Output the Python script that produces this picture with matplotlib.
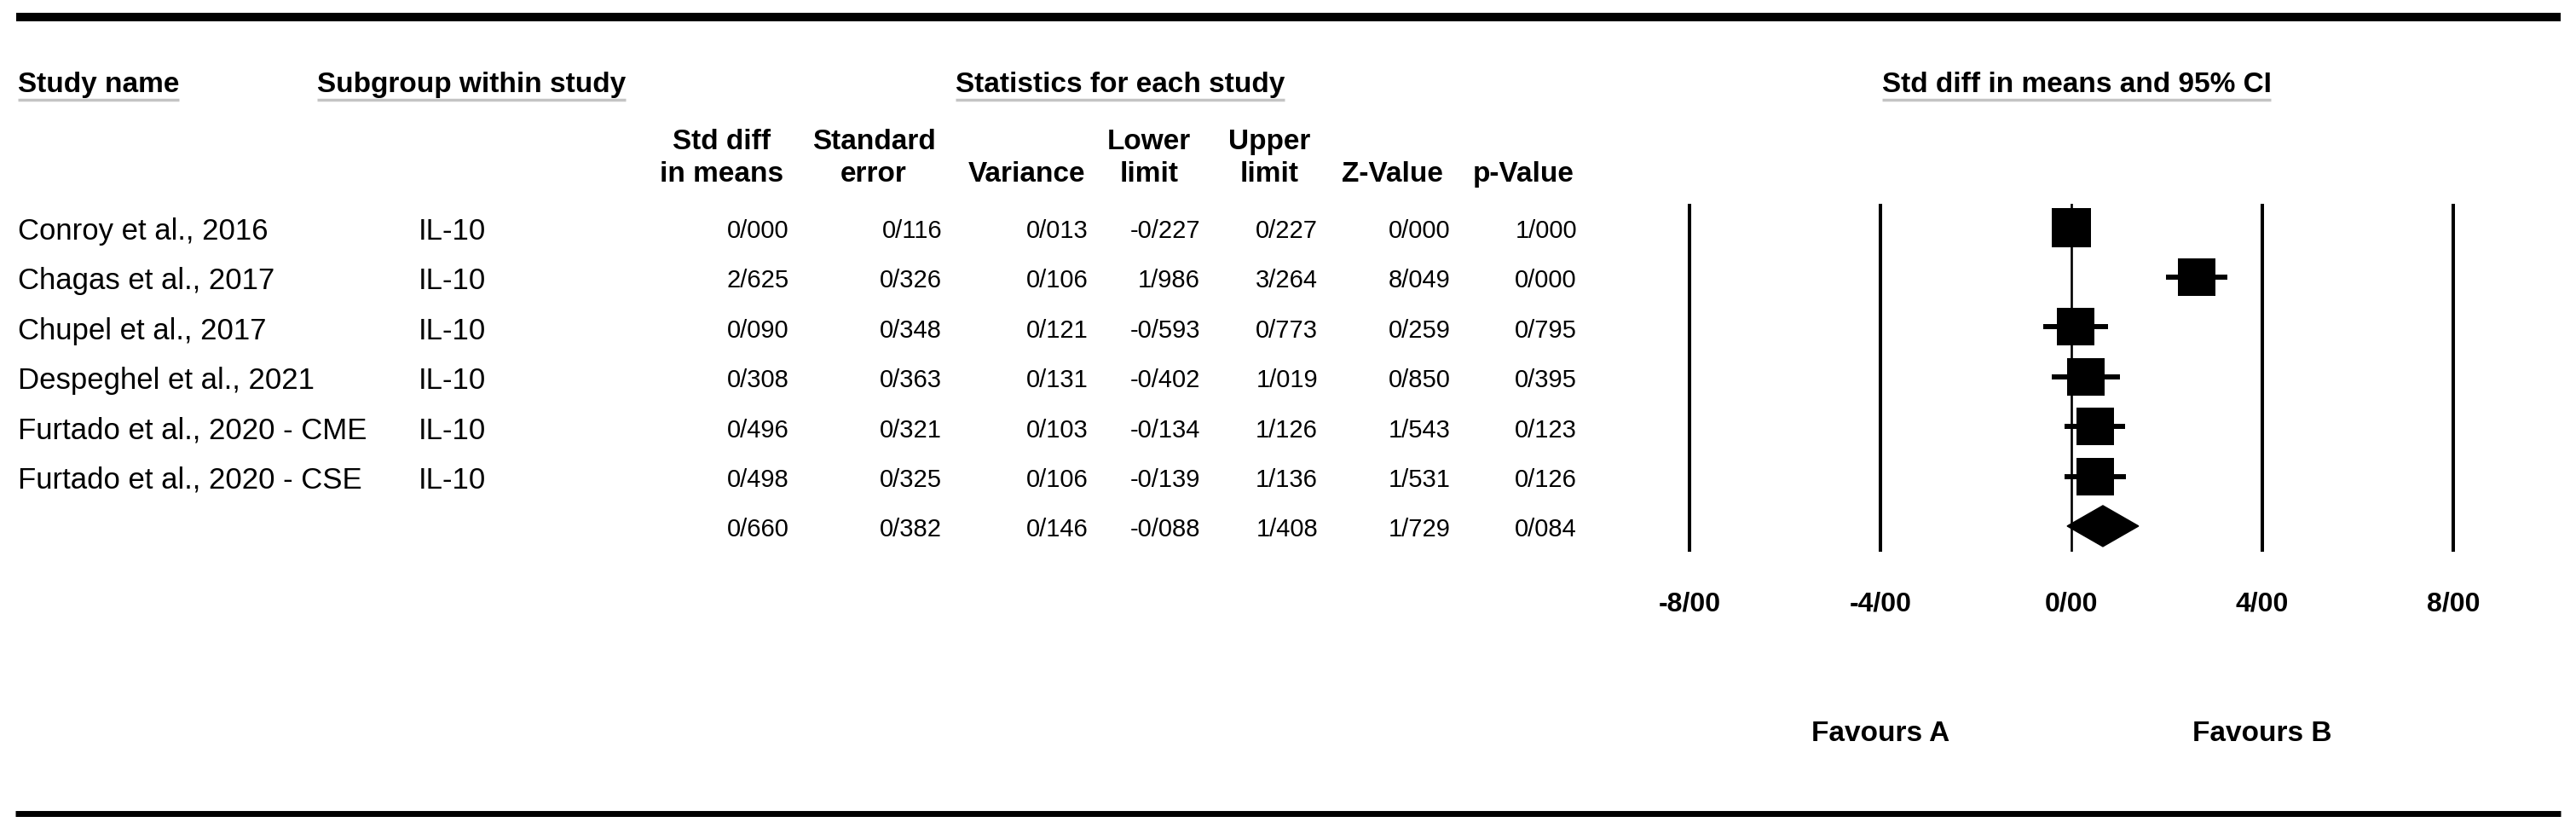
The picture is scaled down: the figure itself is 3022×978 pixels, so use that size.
import matplotlib
matplotlib.use("Agg")
import matplotlib.pyplot as plt
import numpy as np
from matplotlib import font_manager
from matplotlib.patches import Polygon
from matplotlib.transforms import blended_transform_factory

# study rows
studies = ["Conroy et al., 2016", "Chagas et al., 2017", "Chupel et al., 2017",
           "Despeghel et al., 2021", "Furtado et al., 2020 - CME", "Furtado et al., 2020 - CSE"]
subgroups = ["IL-10", "IL-10", "IL-10", "IL-10", "IL-10", "IL-10"]
std_diff = [0.000, 2.625, 0.090, 0.308, 0.496, 0.498]
std_err = [0.116, 0.326, 0.348, 0.363, 0.321, 0.325]
variance = [0.013, 0.106, 0.121, 0.131, 0.103, 0.106]
lower = [-0.227, 1.986, -0.593, -0.402, -0.134, -0.139]
upper = [0.227, 3.264, 0.773, 1.019, 1.126, 1.136]
z_value = [0.000, 8.049, 0.259, 0.850, 1.543, 1.531]
p_value = [1.000, 0.000, 0.795, 0.395, 0.123, 0.126]

# pooled (random effects) row
summary = [0.660, 0.382, 0.146, -0.088, 1.408, 1.729, 0.084]

col_heads = [("Std diff", "in means"), ("Standard", "error"), ("", "Variance"),
             ("Lower", "limit"), ("Upper", "limit"), ("", "Z-Value"), ("", "p-Value")]
ticks = [-8, -4, 0, 4, 8]

W, H = 3022, 979
fig = plt.figure(figsize=(W / 100, H / 100), dpi=100)

names = {f.name for f in font_manager.fontManager.ttflist}
base_font = "Liberation Sans" if "Liberation Sans" in names else "DejaVu Sans"
if "Liberation Sans Narrow" in names:
    num_font, num_size = "Liberation Sans Narrow", 23
else:
    num_font, num_size = base_font, 21
plt.rcParams["font.family"] = [base_font, "DejaVu Sans"]

# full-figure axes in pixel coords for the table part
ax0 = fig.add_axes([0, 0, 1, 1])
ax0.set_xlim(0, W)
ax0.set_ylim(H, 0)
ax0.axis("off")

def fmt(v):
    return f"{v:.3f}".replace(".", "/")

row_y0, row_dy = 267.5, 58.4
rows_y = [row_y0 + row_dy * i for i in range(len(studies) + 1)]

# rules top and bottom
ax0.plot([19, 3004], [21, 21], color="black", lw=7.2, solid_capstyle="butt")
ax0.plot([18, 3004], [955, 955], color="black", lw=5.0, solid_capstyle="butt")

# top header row with grey underline
head_kw = dict(fontsize=24, fontweight="bold", va="baseline")
heads = [ax0.text(21, 108, "Study name", ha="left", **head_kw),
         ax0.text(372, 108, "Subgroup within study", ha="left", **head_kw),
         ax0.text(1314, 108, "Statistics for each study", ha="center", **head_kw),
         ax0.text(2436, 108, "Std diff in means and 95% CI", ha="center", **head_kw)]
fig.canvas.draw()
rend = fig.canvas.get_renderer()
for t in heads:
    bb = t.get_window_extent(rend)
    ax0.plot([bb.x0, bb.x1], [117.5, 117.5], color="#c4c4c4", lw=2.5, solid_capstyle="butt")

col_centers = [847, 1025, 1205, 1348, 1489, 1633, 1787]
col_rights = [926, 1105, 1277, 1408, 1546, 1702, 1850]
for (l1, l2), cx in zip(col_heads, col_centers):
    if l1:
        ax0.text(cx, 175, l1, ha="center", **head_kw)
    ax0.text(cx, 213, l2, ha="center", **head_kw)

# table body
cols = [std_diff, std_err, variance, lower, upper, z_value, p_value]
for i, y in enumerate(rows_y[:-1]):
    ax0.text(21, y + 13.5, studies[i], fontsize=25, ha="left", va="baseline")
    ax0.text(491, y + 13.5, subgroups[i], fontsize=25, ha="left", va="baseline")
    for c, xr in zip(cols, col_rights):
        ax0.text(xr, y + 11.5, fmt(c[i]), fontsize=num_size, family=num_font,
                 ha="right", va="baseline")
for v, xr in zip(summary, col_rights):
    ax0.text(xr, rows_y[-1] + 11.5, fmt(v), fontsize=num_size, family=num_font,
             ha="right", va="baseline")

# forest plot axes: zero at x=2430 px, 56 px per unit
zero_px, unit_px = 2430, 56.0
x_lo, x_hi = -9, 9
top_px, bot_px = 240, 648
ax = fig.add_axes([(zero_px + x_lo * unit_px) / W, 1 - bot_px / H,
                   (x_hi - x_lo) * unit_px / W, (bot_px - top_px) / H])
ax.set_xlim(x_lo, x_hi)
ax.set_ylim((bot_px - row_y0) / row_dy, (top_px - row_y0) / row_dy)
ax.axis("off")

for t in ticks:
    if t == 0:
        ax.axvline(t, color="black", lw=1.9, zorder=1)
    else:
        ax.axvline(t, color="black", lw=2.9, zorder=1)

# random effects weights for box sizes (DerSimonian-Laird)
v = np.array(variance)
y_eff = np.array(std_diff)
w_fe = 1 / v
ybar = np.sum(w_fe * y_eff) / np.sum(w_fe)
Q = np.sum(w_fe * (y_eff - ybar) ** 2)
C = np.sum(w_fe) - np.sum(w_fe ** 2) / np.sum(w_fe)
tau2 = max(0.0, (Q - (len(v) - 1)) / C)
w_re = 1 / (v + tau2)
box_px = 43.5 * np.sqrt(w_re / w_re.min())

for i in range(len(studies)):
    ax.plot([lower[i], upper[i]], [i, i], color="black", lw=4.3,
            solid_capstyle="butt", zorder=2)
    ax.plot(std_diff[i], i, marker="s", color="black", markersize=box_px[i] * 0.72,
            markeredgewidth=0, zorder=3)

# pooled diamond
ys = len(studies)
half_h = 24 / row_dy
dia = Polygon([(summary[3], ys), (summary[0], ys - half_h), (summary[4], ys),
               (summary[0], ys + half_h)], closed=True, color="black", zorder=3)
ax.add_patch(dia)

# tick labels and favours text under the plot
trans = blended_transform_factory(ax.transData, ax0.transData)
for t in ticks:
    ax0.text(t, 717, f"{t:.2f}".replace(".", "/"), transform=trans, ha="center",
             va="baseline", fontsize=23, fontweight="bold")
ax0.text(-4, 869, "Favours A", transform=trans, ha="center", va="baseline",
         fontsize=24, fontweight="bold")
ax0.text(4, 869, "Favours B", transform=trans, ha="center", va="baseline",
         fontsize=24, fontweight="bold")

fig.savefig("out.png", dpi=100)
